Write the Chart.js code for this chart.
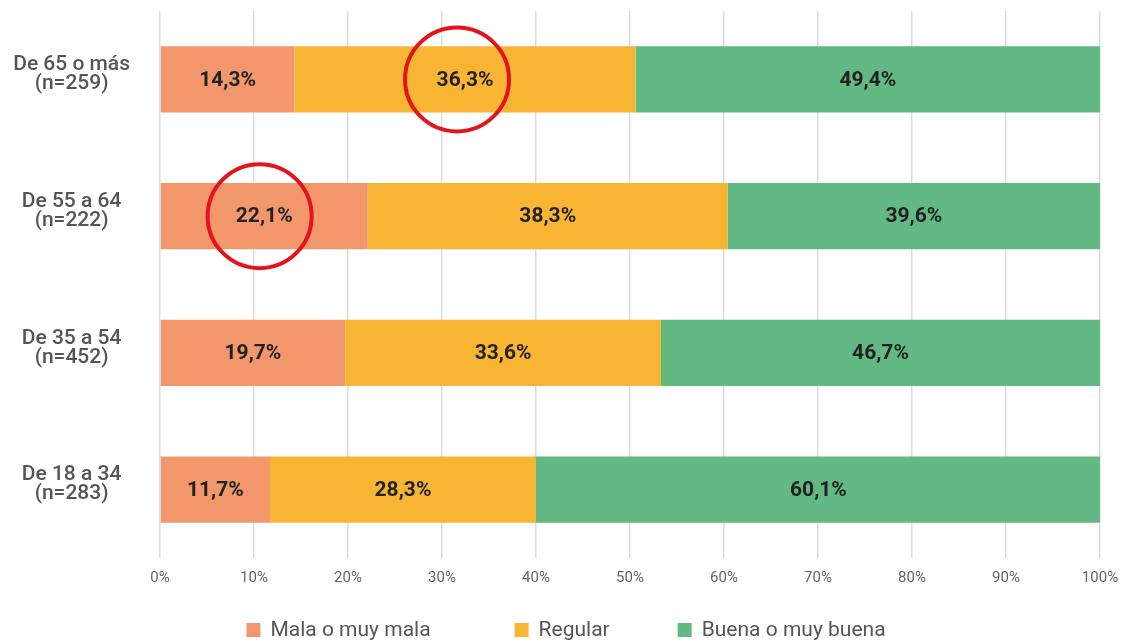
<!DOCTYPE html>
<html><head><meta charset="utf-8">
<script src="https://cdn.jsdelivr.net/npm/chart.js@4/dist/chart.umd.min.js"></script>
<style>html,body{margin:0;padding:0;background:#fff}#wrap{width:1126px;height:642px}</style>
</head><body><div id="wrap"><canvas id="c" width="1126" height="642"></canvas></div>
<script>
const categories = [["De 65 o más","(n=259)"],["De 55 a 64","(n=222)"],["De 35 a 54","(n=452)"],["De 18 a 34","(n=283)"]];
const seriesNames = ["Mala o muy mala","Regular","Buena o muy buena"];
const mala = [14.3, 22.1, 19.7, 11.7];
const regular = [36.3, 38.3, 33.6, 28.3];
const buena = [49.4, 39.6, 46.7, 60.1];
const xTicks = [0,10,20,30,40,50,60,70,80,90,100];
const highlightRows = [0, 1];
const highlightX = [31.6, 10.6];
const colors = ["#F2976C","#F8B533","#62B983"];
const FONT = "Roboto";

const labelPlugin = {
  id:'segLabels',
  afterDatasetsDraw(chart){
    const ctx = chart.ctx;
    ctx.save();
    ctx.font = "bold 21px " + FONT;
    ctx.fillStyle = "#222";
    ctx.textAlign = "center"; ctx.textBaseline = "middle";
    chart.data.datasets.forEach((ds,di)=>{
      chart.getDatasetMeta(di).data.forEach((bar,i)=>{
        const p = bar.getProps(['x','y','base'],true);
        const cx = (p.x + p.base)/2;
        ctx.fillText(ds.data[i].toFixed(1).replace('.',',') + '%', cx, p.y+1);
      });
    });
    const xs = chart.scales.x, ys = chart.scales.y;
    ctx.strokeStyle = "#E3141B"; ctx.lineWidth = 4;
    highlightRows.forEach((r,k)=>{
      ctx.beginPath();
      ctx.arc(xs.getPixelForValue(highlightX[k]), ys.getPixelForValue(r), 52, 0, Math.PI*2);
      ctx.stroke();
    });
    ctx.restore();
  }
};

const legendGaps = [84, 68];
const legendPlugin = {
  id:'customLegend',
  afterDraw(chart){
    const ctx = chart.ctx;
    ctx.save();
    ctx.font = "21px " + FONT;
    const box = 14, boxGap = 10;
    const widths = seriesNames.map(t=>box+boxGap+ctx.measureText(t).width);
    const total = widths.reduce((a,b)=>a+b,0) + legendGaps.reduce((a,b)=>a+b,0);
    let x = (chart.width - total)/2 + 3;
    const y = 630;
    ctx.textBaseline = "middle"; ctx.textAlign = "left";
    seriesNames.forEach((t,i)=>{
      ctx.fillStyle = colors[i];
      ctx.fillRect(x, y-7, box, box);
      ctx.fillStyle = "#555";
      ctx.fillText(t, x+box+boxGap, y+1);
      x += widths[i] + (legendGaps[i]||0);
    });
    ctx.restore();
  }
};

new Chart(document.getElementById('c'), {
  type:'bar',
  data:{
    labels: categories,
    datasets:[
      {label:seriesNames[0], data:mala, backgroundColor:colors[0]},
      {label:seriesNames[1], data:regular, backgroundColor:colors[1]},
      {label:seriesNames[2], data:buena, backgroundColor:colors[2]}
    ]
  },
  options:{
    indexAxis:'y', responsive:false, animation:false,
    layout:{padding:{left:0,right:26,top:11,bottom:44}},
    datasets:{bar:{barPercentage:0.97,categoryPercentage:0.5}},
    scales:{
      x:{stacked:true,min:0,max:100,
        afterBuildTicks(s){ s.ticks = xTicks.map(v=>({value:v})); },
        afterFit(s){ s.paddingLeft = 0; s.paddingRight = 0; },
        grid:{color:"#dcdcdc",lineWidth:1.5,drawTicks:false},
        border:{display:false},
        ticks:{padding:11,color:"#666",font:{family:FONT,size:15},callback:v=>v+'%'}},
      y:{stacked:true,
        grid:{display:false,drawTicks:false},
        border:{display:false},
        afterFit(s){ s.width = 160; s.paddingTop = 0; s.paddingBottom = 0; },
        ticks:{color:"#555",crossAlign:'center',padding:30,labelOffset:-5,font:{family:FONT,size:21,weight:'500',lineHeight:0.9}}}
    },
    plugins:{
      legend:{display:false},
      tooltip:{enabled:false}
    }
  },
  plugins:[labelPlugin, legendPlugin]
});
</script></body></html>
